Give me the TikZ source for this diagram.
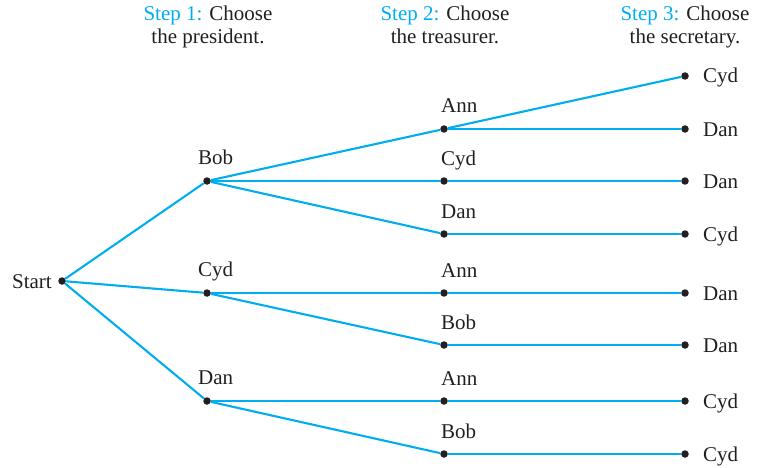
\documentclass[tikz,border=0pt]{standalone}
\usepackage{fontspec}
\setmainfont{Liberation Serif}
\usepackage{xcolor}
\usetikzlibrary{positioning}
\definecolor{stepcyan}{RGB}{0,174,239}
\definecolor{inkblack}{RGB}{35,31,32}

\begin{document}
\begin{tikzpicture}[
  x=1pt, y=-1pt,
  font=\fontsize{21}{23}\selectfont,
  text=inkblack,
  dot/.style={circle, fill=inkblack, inner sep=0pt, minimum size=7.5pt},
  who/.style={inner sep=0pt},
  header/.style={align=center, inner sep=0pt, anchor=base},
  branch/.style={draw=stepcyan, line width=2.1pt}
]
\useasboundingbox (0,0) rectangle (757,468);

% headers
\node[header] (H1) at (208,44) {\textcolor{stepcyan}{Step 1:} Choose\\the president.};
\node[header] (H2) at (445,44) {\textcolor{stepcyan}{Step 2:} Choose\\the treasurer.};
\node[header] (H3) at (685,44) {\textcolor{stepcyan}{Step 3:} Choose\\the secretary.};

% tree nodes
\node[dot] (Start) at (62,281) {};
\node[dot] (Bob) at (207,181) {};
\node[dot] (Cyd) at (207,293) {};
\node[dot] (Dan) at (207,401) {};

\node[dot] (BobAnn) at (444,129) {};
\node[dot] (BobCyd) at (444,181) {};
\node[dot] (BobDan) at (444,234) {};
\node[dot] (CydAnn) at (444,293) {};
\node[dot] (CydBob) at (444,345) {};
\node[dot] (DanAnn) at (444,401) {};
\node[dot] (DanBob) at (444,454) {};

\node[dot] (BobAnnCyd) at (685,76) {};
\node[dot] (BobAnnDan) at (685,129) {};
\node[dot] (BobCydDan) at (685,181) {};
\node[dot] (BobDanCyd) at (685,234) {};
\node[dot] (CydAnnDan) at (685,293) {};
\node[dot] (CydBobDan) at (685,345) {};
\node[dot] (DanAnnCyd) at (685,401) {};
\node[dot] (DanBobCyd) at (685,454) {};

% labels
\node[who, anchor=base east] at ([xshift=-10pt, yshift=-7pt]Start) {Start};
\node[who, anchor=base west] at ([xshift=-9pt, yshift=17pt]Bob) {Bob};
\node[who, anchor=base west] at ([xshift=-9pt, yshift=17pt]Cyd) {Cyd};
\node[who, anchor=base west] at ([xshift=-9pt, yshift=17pt]Dan) {Dan};
\node[who, anchor=base west] at ([xshift=-3pt, yshift=16pt]BobAnn) {Ann};
\node[who, anchor=base west] at ([xshift=-3pt, yshift=16pt]BobCyd) {Cyd};
\node[who, anchor=base west] at ([xshift=-3pt, yshift=16pt]BobDan) {Dan};
\node[who, anchor=base west] at ([xshift=-3pt, yshift=16pt]CydAnn) {Ann};
\node[who, anchor=base west] at ([xshift=-3pt, yshift=16pt]CydBob) {Bob};
\node[who, anchor=base west] at ([xshift=-3pt, yshift=16pt]DanAnn) {Ann};
\node[who, anchor=base west] at ([xshift=-3pt, yshift=16pt]DanBob) {Bob};
\node[who, anchor=base west] at ([xshift=18pt, yshift=-7pt]BobAnnCyd) {Cyd};
\node[who, anchor=base west] at ([xshift=18pt, yshift=-7pt]BobAnnDan) {Dan};
\node[who, anchor=base west] at ([xshift=18pt, yshift=-7pt]BobCydDan) {Dan};
\node[who, anchor=base west] at ([xshift=18pt, yshift=-7pt]BobDanCyd) {Cyd};
\node[who, anchor=base west] at ([xshift=18pt, yshift=-7pt]CydAnnDan) {Dan};
\node[who, anchor=base west] at ([xshift=18pt, yshift=-7pt]CydBobDan) {Dan};
\node[who, anchor=base west] at ([xshift=18pt, yshift=-7pt]DanAnnCyd) {Cyd};
\node[who, anchor=base west] at ([xshift=18pt, yshift=-7pt]DanBobCyd) {Cyd};

% branches
\draw[branch] (Start) -- (Bob);
\draw[branch] (Start) -- (Cyd);
\draw[branch] (Start) -- (Dan);
\draw[branch] (Bob) -- (BobAnn);
\draw[branch] (Bob) -- (BobCyd);
\draw[branch] (Bob) -- (BobDan);
\draw[branch] (Cyd) -- (CydAnn);
\draw[branch] (Cyd) -- (CydBob);
\draw[branch] (Dan) -- (DanAnn);
\draw[branch] (Dan) -- (DanBob);
\draw[branch] (BobAnn) -- (BobAnnCyd);
\draw[branch] (BobAnn) -- (BobAnnDan);
\draw[branch] (BobCyd) -- (BobCydDan);
\draw[branch] (BobDan) -- (BobDanCyd);
\draw[branch] (CydAnn) -- (CydAnnDan);
\draw[branch] (CydBob) -- (CydBobDan);
\draw[branch] (DanAnn) -- (DanAnnCyd);
\draw[branch] (DanBob) -- (DanBobCyd);
\end{tikzpicture}
\end{document}
